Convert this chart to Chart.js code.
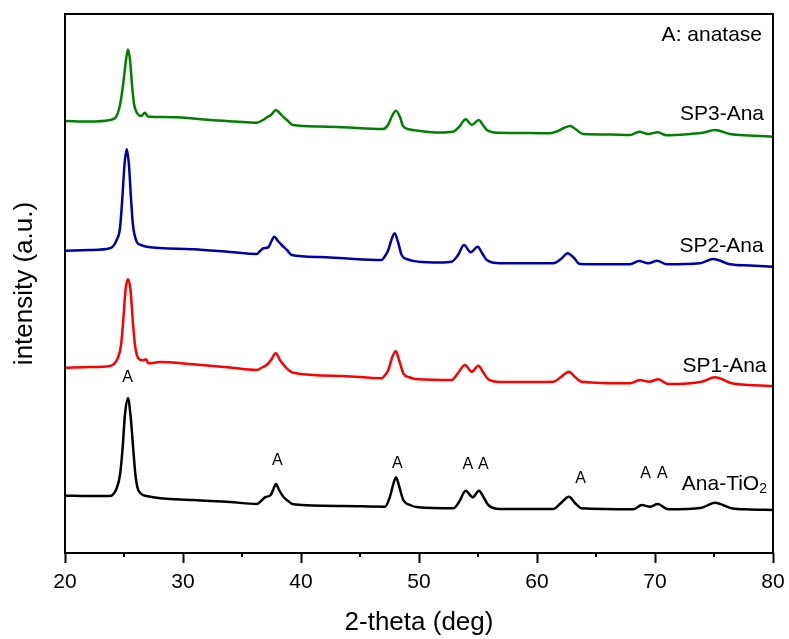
<!DOCTYPE html>
<html>
<head>
<meta charset="utf-8">
<script src="https://cdn.jsdelivr.net/npm/chart.js@4/dist/chart.umd.min.js"></script>
<style>
  html, body { margin: 0; padding: 0; background: #ffffff; }
  #wrap { width: 789px; height: 639px; }
</style>
</head>
<body>
<div id="wrap"><canvas id="c" width="789" height="639"></canvas></div>
<script>
// ---- data (2-theta in degrees, intensity in arbitrary units incl. vertical offsets) ----
const sp3Angle = [20.00,22.12,23.81,24.32,24.66,24.92,25.17,25.34,25.51,25.68,25.85,26.10,26.44,26.78,27.03,28.05,29.49,32.29,34.41,36.27,36.78,37.12,37.46,37.88,38.22,38.56,38.90,39.32,41.61,43.56,46.95,47.37,47.71,48.05,48.39,48.64,49.24,49.92,51.78,52.88,53.39,53.96,54.47,55.06,55.42,55.76,56.61,59.41,61.10,61.78,62.29,62.80,63.31,63.90,66.19,67.88,68.67,69.43,70.23,70.99,72.97,74.07,75.08,76.36,78.05,80.00];
const sp3Int   = [432.0,431.5,433.0,436.0,448.0,468.0,493.0,503.5,493.0,468.0,449.0,440.0,437.0,440.3,436.5,436.0,435.7,433.0,431.5,430.3,433.0,435.7,438.0,443.0,439.5,435.5,432.0,428.0,426.5,425.7,424.0,428.0,437.0,442.3,436.0,427.0,423.5,422.3,420.5,421.3,426.0,433.7,428.0,433.0,428.0,423.0,420.3,420.0,419.7,422.0,425.0,427.0,423.5,419.0,418.5,418.0,421.3,419.0,420.7,417.7,419.0,420.3,423.0,419.0,417.5,416.3];

const sp2Angle = [20.00,22.12,23.81,24.38,24.66,24.86,25.04,25.23,25.42,25.59,25.76,26.08,26.44,26.92,30.87,33.98,36.25,36.53,36.81,37.23,37.46,37.74,38.05,38.36,38.81,39.21,41.61,43.58,46.84,47.12,47.40,47.63,47.94,48.22,48.53,49.07,49.94,51.78,52.77,53.31,53.81,54.38,54.97,55.34,55.74,56.86,61.38,62.03,62.60,63.14,63.64,67.88,68.64,69.43,70.19,70.99,73.81,74.94,76.36,78.05,80.00];
const sp2Int   = [302.3,303.0,304.7,313.0,325.0,355.0,388.0,403.7,388.0,355.0,328.0,311.3,308.0,306.3,303.7,301.0,299.0,302.0,304.7,305.7,311.0,316.3,312.0,308.0,303.0,298.0,296.0,294.7,293.0,297.0,303.0,312.0,319.7,311.0,298.0,293.5,291.3,290.5,291.3,298.0,308.0,300.7,306.3,300.0,293.0,289.7,289.7,294.0,299.7,295.0,289.0,288.7,292.0,289.7,292.3,288.7,289.7,294.0,288.7,287.5,286.3];

const sp1Angle = [20.00,22.12,23.81,24.52,24.75,24.92,25.13,25.34,25.55,25.76,25.93,26.21,26.61,26.86,27.06,28.05,30.87,33.98,36.25,36.69,37.09,37.46,37.86,38.22,38.79,39.35,43.58,46.84,47.12,47.40,47.71,48.03,48.31,48.67,49.24,49.94,52.77,53.31,53.90,54.47,55.03,55.42,55.87,56.86,61.38,62.03,62.71,63.22,63.79,67.88,68.73,69.52,70.28,71.13,73.96,75.08,76.50,78.05,80.00];
const sp1Int   = [185.3,186.0,187.0,196.3,208.0,230.0,263.0,273.7,263.0,230.0,208.0,194.7,192.5,193.7,189.7,191.0,188.7,185.5,183.0,185.5,188.0,193.0,199.7,193.0,184.7,180.3,177.0,174.7,178.0,183.0,195.0,202.0,193.0,179.7,175.5,173.7,173.0,180.0,188.0,181.3,187.3,181.0,173.7,171.0,171.3,176.0,181.3,176.0,171.3,169.7,173.0,171.3,173.7,169.0,171.3,175.7,169.7,168.0,167.0];

const anaAngle = [20.00,22.12,23.81,24.38,24.66,24.87,25.08,25.34,25.55,25.79,25.97,26.21,26.92,30.87,33.98,36.25,36.61,36.95,37.43,37.63,37.88,38.14,38.50,38.90,39.35,43.58,47.12,47.54,47.80,48.05,48.31,48.67,49.24,49.94,52.91,53.39,53.96,54.55,55.08,55.51,55.87,56.86,61.38,62.03,62.71,63.22,63.79,68.16,68.87,69.58,70.23,71.13,73.96,75.08,76.50,78.05,80.00];
const anaInt   = [57.3,57.0,57.0,64.7,78.0,103.0,138.0,154.7,138.0,103.0,78.0,63.0,57.0,53.0,51.0,49.0,52.0,55.7,58.0,63.0,69.0,63.0,56.3,52.0,48.7,47.0,46.3,56.3,68.0,75.7,67.0,53.0,48.0,45.7,44.7,51.0,62.3,55.7,62.3,55.0,48.0,44.0,44.0,50.0,56.3,50.0,44.7,43.7,48.0,46.3,49.0,43.7,45.3,50.3,44.7,43.5,43.0];

const seriesNames  = ['SP3-Ana', 'SP2-Ana', 'SP1-Ana', 'Ana-TiO'];
const seriesColors = ['#008000', '#0000A8', '#FF0000', '#000000'];

// label anchor points (data units)
const nameRightX   = [79.24, 79.20, 79.45, 79.49];
const nameBaseY    = [433, 301, 181, 63];
const peakLabelX   = [25.30, 37.99, 48.16, 54.13, 55.45, 63.70, 69.21, 70.62];
const peakLabelY   = [175.7, 92.0, 89.7, 88.0, 88.0, 74.7, 79.7, 79.7];
const legendNote   = 'A: anatase';
const legendNoteX  = 79.07;
const legendNoteY  = 512;

const xTicksMajor  = [20, 30, 40, 50, 60, 70, 80];
const xTicksMinor  = [25, 35, 45, 55, 65, 75];

const FONT = "'Liberation Sans', Arial, Helvetica, sans-serif";

function pairs(xs, ys) { return xs.map((x, i) => ({ x: x, y: ys[i] })); }

const allData = [pairs(sp3Angle, sp3Int), pairs(sp2Angle, sp2Int), pairs(sp1Angle, sp1Int), pairs(anaAngle, anaInt)];

const annotPlugin = {
  id: 'annot',
  afterDatasetsDraw(chart) {
    const ctx = chart.ctx;
    const xs = chart.scales.x, ys = chart.scales.y;
    const a = chart.chartArea;
    ctx.save();
    // frame
    ctx.strokeStyle = '#000';
    ctx.lineWidth = 2;
    ctx.strokeRect(a.left, a.top, a.right - a.left, a.bottom - a.top);
    // minor ticks
    ctx.lineWidth = 2;
    xTicksMinor.forEach(v => {
      const px = Math.round(xs.getPixelForValue(v));
      ctx.beginPath();
      ctx.moveTo(px, a.bottom);
      ctx.lineTo(px, a.bottom + 4);
      ctx.stroke();
    });
    ctx.fillStyle = '#000';
    // peak "A" labels
    ctx.font = '16px ' + FONT;
    ctx.textAlign = 'center';
    ctx.textBaseline = 'middle';
    peakLabelX.forEach((v, i) => {
      ctx.fillText('A', xs.getPixelForValue(v), ys.getPixelForValue(peakLabelY[i]));
    });
    // series names
    ctx.textBaseline = 'alphabetic';
    ctx.textAlign = 'right';
    seriesNames.forEach((n, i) => {
      const px = xs.getPixelForValue(nameRightX[i]);
      const py = ys.getPixelForValue(nameBaseY[i]);
      if (i === 3) {
        ctx.font = '14px ' + FONT;
        const subW = ctx.measureText('2').width;
        ctx.fillText('2', px, py + 3);
        ctx.font = '21px ' + FONT;
        ctx.fillText(n, px - subW, py);
      } else {
        ctx.font = '21px ' + FONT;
        ctx.fillText(n, px, py);
      }
    });
    ctx.font = '21px ' + FONT;
    ctx.fillText(legendNote, xs.getPixelForValue(legendNoteX), ys.getPixelForValue(legendNoteY));
    ctx.restore();
  }
};

new Chart(document.getElementById('c'), {
  type: 'line',
  data: {
    datasets: allData.map((d, i) => ({
      label: seriesNames[i] + (i === 3 ? '2' : ''),
      data: d,
      borderColor: seriesColors[i],
      backgroundColor: seriesColors[i],
      borderWidth: 2.5,
      pointRadius: 0,
      tension: 0.35,
      cubicInterpolationMode: 'monotone',
      fill: false
    }))
  },
  options: {
    responsive: false,
    devicePixelRatio: 1,
    animation: false,
    layout: { padding: { left: 0, right: 16, top: 14, bottom: 0 } },
    plugins: { legend: { display: false }, tooltip: { enabled: false } },
    scales: {
      x: {
        type: 'linear',
        min: 20, max: 80,
        afterFit: s => { s.height = 86; s.paddingLeft = 0; s.paddingRight = 0; },
        afterBuildTicks: s => { s.ticks = xTicksMajor.map(v => ({ value: v })); },
        border: { display: false },
        grid: { display: true, drawOnChartArea: false, drawTicks: true, tickLength: 10, tickColor: '#000', tickWidth: 2 },
        ticks: { color: '#000', font: { family: FONT, size: 21 }, padding: 7, maxRotation: 0 },
        title: { display: true, text: '2-theta (deg)', color: '#000', font: { family: FONT, size: 26 }, padding: { top: 0, bottom: 1 } }
      },
      y: {
        type: 'linear',
        min: 0, max: 539,
        afterFit: s => { s.width = 65; },
        border: { display: false },
        grid: { display: false, drawTicks: false },
        ticks: { display: false },
        title: { display: true, text: 'intensity (a.u.)', color: '#000', font: { family: FONT, size: 26 }, padding: { top: 9, bottom: 0 } }
      }
    }
  },
  plugins: [annotPlugin]
});
</script>
</body>
</html>
